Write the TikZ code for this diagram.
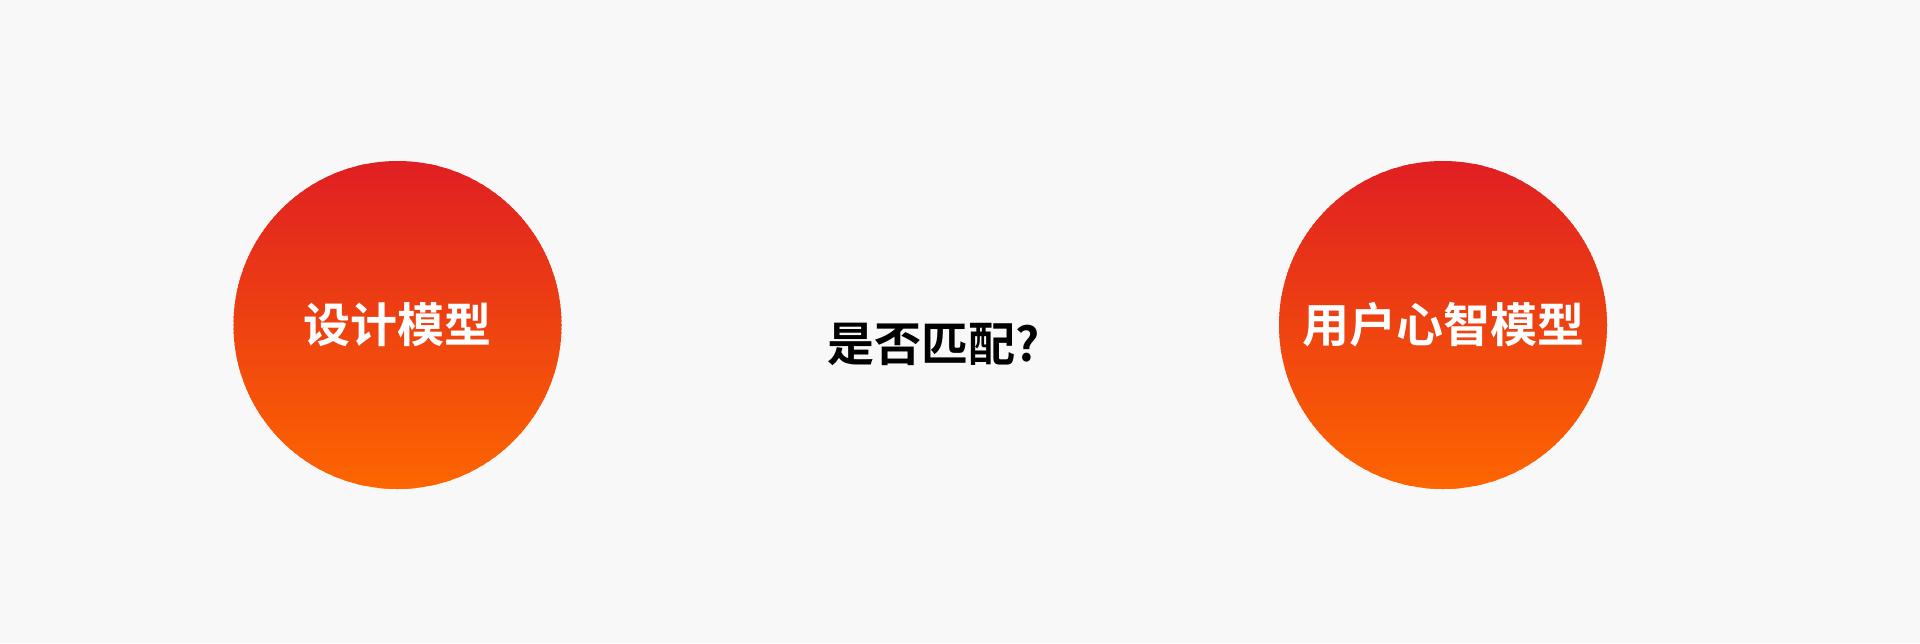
\documentclass[tikz,border=0pt]{standalone}
\usepackage{fontspec}
\newfontfamily\cjk{Noto Sans CJK SC Bold}
\definecolor{bg}{HTML}{F8F8F8}
\definecolor{topred}{HTML}{E01F22}
\definecolor{botorange}{HTML}{FD6600}
\tikzset{
  ball/.style={circle, minimum size=164pt, inner sep=0pt, text=white,
    font=\cjk\fontsize{23.5pt}{28pt}\selectfont},
  question/.style={inner sep=0pt, text=black, font=\cjk\fontsize{23.5pt}{28pt}\selectfont}
}
\begin{document}
\begin{tikzpicture}[x=0.5pt,y=-0.5pt]
  \fill[bg] (0,0) rectangle (1920,643);
  \useasboundingbox (0,0) rectangle (1920,643);
  \foreach \cx in {397.5,1443}{
    \begin{scope}
      \clip (\cx,325) circle[radius=164];
      \foreach \i in {0,...,82}{
        \pgfmathsetmacro{\pc}{100-100*\i/82}
        \fill[topred!\pc!botorange] (\cx-170,161+4*\i-0.6) rectangle (\cx+170,161+4*\i+4.6);
      }
    \end{scope}
  }
  \node[ball] (design) at (397.5,325) {设计模型};
  \node[ball] (user) at (1443,325) {用户心智模型};
  \node[question] (match) at (934,344) {是否匹配?};
\end{tikzpicture}
\end{document}
